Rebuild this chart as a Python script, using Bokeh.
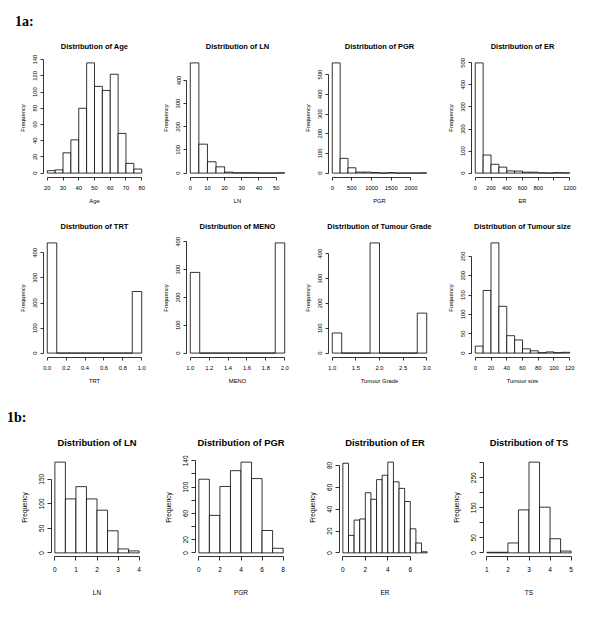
from bokeh.plotting import figure
from bokeh.layouts import column, row
from bokeh.models import Div, FixedTicker, Range1d
from bokeh.embed import file_html
from bokeh.resources import INLINE

FONT = "Liberation Sans"

# ---------------- Figure 1a data ----------------
age_breaks = [20, 25, 30, 35, 40, 45, 50, 55, 60, 65, 70, 75, 80]
age_counts = [3, 4, 25, 41, 80, 136, 107, 102, 122, 49, 12, 5]
age_xticks = [20, 30, 40, 50, 60, 70, 80]
age_xlabels = ["20", "30", "40", "50", "60", "70", "80"]
age_yticks = [0, 20, 40, 60, 80, 100, 120, 140]
age_ylabels = ["0", "20", "40", "60", "80", "100", "120", "140"]

ln_breaks = [0, 5, 10, 15, 20, 25, 30, 35, 40, 45, 50, 55]
ln_counts = [476, 125, 49, 27, 4, 1, 1, 1, 0, 0, 1]
ln_xticks = [0, 10, 20, 30, 40, 50]
ln_xlabels = ["0", "10", "20", "30", "40", "50"]
ln_yticks = [0, 100, 200, 300, 400]
ln_ylabels = ["0", "100", "200", "300", "400"]

pgr_breaks = [0, 200, 400, 600, 800, 1000, 1200, 1400, 1600, 1800, 2000, 2200, 2400]
pgr_counts = [560, 75, 27, 5, 5, 2, 0, 2, 0, 0, 0, 1]
pgr_xticks = [0, 500, 1000, 1500, 2000]
pgr_xlabels = ["0", "500", "1000", "1500", "2000"]
pgr_yticks = [0, 100, 200, 300, 400, 500]
pgr_ylabels = ["0", "100", "200", "300", "400", "500"]

er_breaks = [0, 100, 200, 300, 400, 500, 600, 700, 800, 900, 1000, 1100, 1200]
er_counts = [500, 82, 40, 27, 10, 9, 4, 4, 1, 0, 2, 1]
er_xticks = [0, 200, 400, 600, 800, 1000, 1200]
er_xlabels = ["0", "200", "400", "600", "800", "", "1200"]
er_yticks = [0, 100, 200, 300, 400, 500]
er_ylabels = ["0", "100", "200", "300", "400", "500"]

trt_breaks = [0.0, 0.1, 0.2, 0.3, 0.4, 0.5, 0.6, 0.7, 0.8, 0.9, 1.0]
trt_counts = [440, 0, 0, 0, 0, 0, 0, 0, 0, 246]
trt_xticks = [0.0, 0.2, 0.4, 0.6, 0.8, 1.0]
trt_xlabels = ["0.0", "0.2", "0.4", "0.6", "0.8", "1.0"]
trt_yticks = [0, 100, 200, 300, 400]
trt_ylabels = ["0", "100", "200", "300", "400"]

meno_breaks = [1.0, 1.1, 1.2, 1.3, 1.4, 1.5, 1.6, 1.7, 1.8, 1.9, 2.0]
meno_counts = [290, 0, 0, 0, 0, 0, 0, 0, 0, 396]
meno_xticks = [1.0, 1.2, 1.4, 1.6, 1.8, 2.0]
meno_xlabels = ["1.0", "1.2", "1.4", "1.6", "1.8", "2.0"]
meno_yticks = [0, 100, 200, 300, 400]
meno_ylabels = ["0", "100", "200", "300", "400"]

grade_breaks = [1.0, 1.2, 1.4, 1.6, 1.8, 2.0, 2.2, 2.4, 2.6, 2.8, 3.0]
grade_counts = [81, 0, 0, 0, 444, 0, 0, 0, 0, 161]
grade_xticks = [1.0, 1.5, 2.0, 2.5, 3.0]
grade_xlabels = ["1.0", "1.5", "2.0", "2.5", "3.0"]
grade_yticks = [0, 100, 200, 300, 400]
grade_ylabels = ["0", "100", "200", "300", "400"]

size_breaks = [0, 10, 20, 30, 40, 50, 60, 70, 80, 90, 100, 110, 120]
size_counts = [18, 162, 285, 121, 45, 34, 11, 6, 1, 3, 1, 2]
size_xticks = [0, 20, 40, 60, 80, 100, 120]
size_xlabels = ["0", "20", "40", "60", "80", "100", "120"]
size_yticks = [0, 50, 100, 150, 200, 250]
size_ylabels = ["0", "50", "100", "150", "200", "250"]

# ---------------- Figure 1b data (log scale) ----------------
lln_breaks = [0, 0.5, 1, 1.5, 2, 2.5, 3, 3.5, 4]
lln_counts = [185, 110, 135, 110, 87, 45, 8, 4]
lln_xticks = [0, 1, 2, 3, 4]
lln_xlabels = ["0", "1", "2", "3", "4"]
lln_yticks = [0, 50, 100, 150]
lln_ylabels = ["0", "50", "100", "150"]

lpgr_breaks = [0, 1, 2, 3, 4, 5, 6, 7, 8]
lpgr_counts = [112, 57, 101, 125, 138, 113, 34, 7]
lpgr_xticks = [0, 2, 4, 6, 8]
lpgr_xlabels = ["0", "2", "4", "6", "8"]
lpgr_yticks = [0, 20, 40, 60, 80, 100, 120, 140]
lpgr_ylabels = ["0", "20", "", "60", "", "100", "", "140"]

ler_breaks = [0, 0.5, 1, 1.5, 2, 2.5, 3, 3.5, 4, 4.5, 5, 5.5, 6, 6.5, 7, 7.5]
ler_counts = [82, 16, 30, 31, 55, 49, 67, 71, 83, 65, 59, 47, 22, 9, 1]
ler_xticks = [0, 2, 4, 6]
ler_xlabels = ["0", "2", "4", "6"]
ler_yticks = [0, 20, 40, 60, 80]
ler_ylabels = ["0", "20", "40", "60", "80"]

lts_breaks = [1, 1.5, 2, 2.5, 3, 3.5, 4, 4.5, 5]
lts_counts = [2, 2, 33, 143, 302, 152, 47, 6]
lts_xticks = [1, 2, 3, 4, 5]
lts_xlabels = ["1", "2", "3", "4", "5"]
lts_yticks = [0, 50, 100, 150, 200, 250, 300]
lts_ylabels = ["0", "50", "", "150", "", "250", ""]

# ---------------- styles ----------------
STYLE_A = dict(w=143, h=180, fw=102, t=28, b=33, title_fs="7.5px", fs="5.8px",
               tick=3, xls=5, yls=3, xas=5, yas=5, ts=16, lw=0.8)
STYLE_B = dict(w=144, h=178, fw=91, t=35, b=45, title_fs="9.4px", fs="6.5px",
               tick=4, xls=6, yls=3, xas=14, yas=9, ts=21, lw=0.8)


def make_hist(title, xlabel, breaks, counts, xticks, xlabels, yticks, ylabels, S, left, extra=0):
    lo, hi = breaks[0], breaks[-1]
    pad = 0.04 * (hi - lo)
    top = max(counts)
    lb = left + extra
    p = figure(width=S["w"] + extra, height=S["h"],
               min_border_left=lb, min_border_right=S["w"] - S["fw"] - left,
               min_border_top=S["t"], min_border_bottom=S["b"],
               x_range=Range1d(lo - pad, hi + pad),
               y_range=Range1d(-0.04 * top, 1.04 * top),
               toolbar_location=None, output_backend="svg", title=title)
    p.quad(left=breaks[:-1], right=breaks[1:], bottom=0, top=counts,
           fill_color="white", line_color="black", line_width=S["lw"])
    p.xgrid.visible = False
    p.ygrid.visible = False
    p.outline_line_color = None
    p.background_fill_color = "white"
    p.border_fill_color = "white"
    p.title.text_font = FONT
    p.title.text_font_size = S["title_fs"]
    p.title.text_font_style = "bold"
    p.title.text_color = "black"
    p.title.align = "center"
    p.title.standoff = S["ts"]
    for ax, ticks, labels in ((p.xaxis[0], xticks, xlabels), (p.yaxis[0], yticks, ylabels)):
        ax.ticker = FixedTicker(ticks=ticks, minor_ticks=[])
        ax.bounds = (ticks[0], ticks[-1])
        ax.major_label_overrides = {t: l for t, l in zip(ticks, labels)}
        ax.major_tick_out = S["tick"]
        ax.major_tick_in = 0
        ax.minor_tick_out = 0
        ax.minor_tick_in = 0
        ax.axis_line_color = "black"
        ax.axis_line_width = 0.8
        ax.major_tick_line_color = "black"
        ax.major_tick_line_width = 0.8
        ax.major_label_text_font = FONT
        ax.major_label_text_font_size = S["fs"]
        ax.major_label_text_color = "black"
        ax.axis_label_text_font = FONT
        ax.axis_label_text_font_size = S["fs"]
        ax.axis_label_text_font_style = "normal"
        ax.axis_label_text_color = "black"
    p.xaxis.axis_label = xlabel
    p.yaxis.axis_label = "Frequency"
    p.yaxis.major_label_orientation = "vertical"
    p.xaxis.major_label_standoff = S["xls"]
    p.yaxis.major_label_standoff = S["yls"]
    p.xaxis.axis_label_standoff = S["xas"]
    p.yaxis.axis_label_standoff = S["yas"]
    return p


lefts_a = [35, 35, 34, 34]
lefts_b = [43, 43, 43, 43]
PAGE_SHIFT = 8

row1 = row(
    make_hist("Distribution of Age", "Age", age_breaks, age_counts, age_xticks, age_xlabels, age_yticks, age_ylabels, STYLE_A, lefts_a[0], PAGE_SHIFT),
    make_hist("Distribution of LN", "LN", ln_breaks, ln_counts, ln_xticks, ln_xlabels, ln_yticks, ln_ylabels, STYLE_A, lefts_a[1]),
    make_hist("Distribution of PGR", "PGR", pgr_breaks, pgr_counts, pgr_xticks, pgr_xlabels, pgr_yticks, pgr_ylabels, STYLE_A, lefts_a[2]),
    make_hist("Distribution of ER", "ER", er_breaks, er_counts, er_xticks, er_xlabels, er_yticks, er_ylabels, STYLE_A, lefts_a[3]),
    spacing=0,
)
row2 = row(
    make_hist("Distribution of TRT", "TRT", trt_breaks, trt_counts, trt_xticks, trt_xlabels, trt_yticks, trt_ylabels, STYLE_A, lefts_a[0], PAGE_SHIFT),
    make_hist("Distribution of MENO", "MENO", meno_breaks, meno_counts, meno_xticks, meno_xlabels, meno_yticks, meno_ylabels, STYLE_A, lefts_a[1]),
    make_hist("Distribution of Tumour Grade", "Tumour Grade", grade_breaks, grade_counts, grade_xticks, grade_xlabels, grade_yticks, grade_ylabels, STYLE_A, lefts_a[2]),
    make_hist("Distribution of Tumour size", "Tumour size", size_breaks, size_counts, size_xticks, size_xlabels, size_yticks, size_ylabels, STYLE_A, lefts_a[3]),
    spacing=0,
)
row3 = row(
    make_hist("Distribution of LN", "LN", lln_breaks, lln_counts, lln_xticks, lln_xlabels, lln_yticks, lln_ylabels, STYLE_B, lefts_b[0], PAGE_SHIFT),
    make_hist("Distribution of PGR", "PGR", lpgr_breaks, lpgr_counts, lpgr_xticks, lpgr_xlabels, lpgr_yticks, lpgr_ylabels, STYLE_B, lefts_b[1]),
    make_hist("Distribution of ER", "ER", ler_breaks, ler_counts, ler_xticks, ler_xlabels, ler_yticks, ler_ylabels, STYLE_B, lefts_b[2]),
    make_hist("Distribution of TS", "TS", lts_breaks, lts_counts, lts_xticks, lts_xlabels, lts_yticks, lts_ylabels, STYLE_B, lefts_b[3]),
    spacing=0,
)

label_a = Div(text='<div style="font-family:\'Liberation Serif\';font-weight:bold;font-size:14px;margin:15px 0 0 15px;line-height:1;">1a:</div>',
              width=100, height=30, margin=0)
label_b = Div(text='<div style="font-family:\'Liberation Serif\';font-weight:bold;font-size:14px;margin:21px 0 0 7px;line-height:1;">1b:</div>',
              width=100, height=33, margin=0)

layout = column(label_a, row1, row2, label_b, row3, spacing=0)

open("out.html", "w").write(file_html(layout, INLINE))
